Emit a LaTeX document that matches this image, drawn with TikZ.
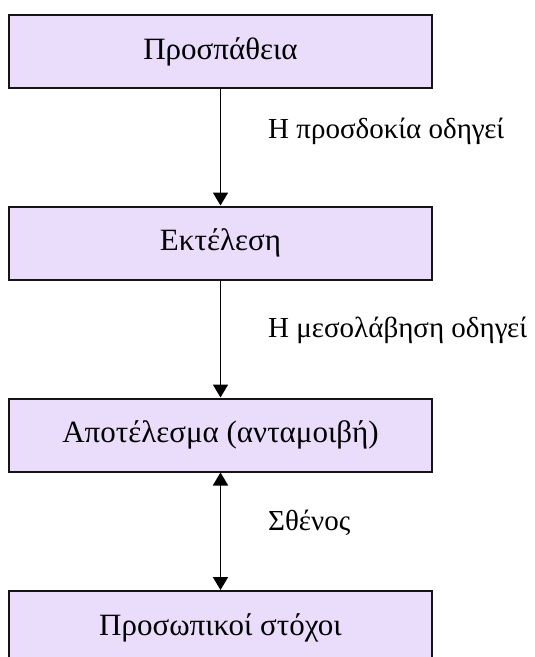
\documentclass[tikz,border=0pt]{standalone}
\usepackage{fontspec}
\setmainfont{Liberation Serif}
\usetikzlibrary{arrows.meta}
\definecolor{boxfill}{RGB}{233,221,251}
\definecolor{boxline}{RGB}{20,20,20}
\tikzset{
  x=1pt, y=1pt,
  stagebox/.style={draw=boxline, line width=2pt, fill=boxfill,
    minimum width=423pt, minimum height=73pt, inner sep=0pt,
    font=\fontsize{31}{37}\selectfont},
  flow/.style={line width=1.8pt, -{Triangle[width=15pt,length=13pt]}},
  twoway/.style={line width=1.8pt, {Triangle[width=15pt,length=13pt]}-{Triangle[width=15pt,length=13pt]}},
  steplabel/.style={anchor=base west, inner sep=0pt,
    font=\fontsize{29}{34}\selectfont}
}
\begin{document}
\begin{tikzpicture}
\useasboundingbox (0,0) rectangle (535,-657);
\node[stagebox] (effort) at (220.5,-51.5) {Προσπάθεια};
\node[stagebox] (perf)   at (220.5,-243) {Εκτέλεση};
\node[stagebox] (result) at (220.5,-435) {Αποτέλεσμα (ανταμοιβή)};
\node[stagebox] (goals)  at (220.5,-627.5) {Προσωπικοί στόχοι};

\draw[flow] (effort.south) -- (perf.north);
\draw[flow] (perf.south) -- (result.north);
\draw[twoway] (result.south) -- (goals.north);

\node[steplabel] (l1) at (268,-138) {Η προσδοκία οδηγεί};
\node[steplabel] (l2) at (268,-337) {Η μεσολάβηση οδηγεί};
\node[steplabel] (l3) at (268,-530) {Σθένος};
\end{tikzpicture}
\end{document}
